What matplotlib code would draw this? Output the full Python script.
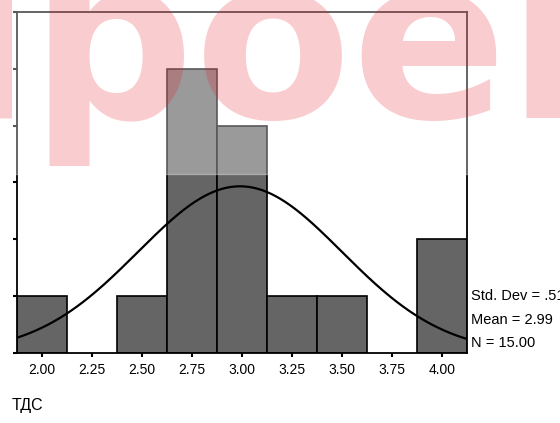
import numpy as np
import matplotlib
matplotlib.use("Agg")
import matplotlib.pyplot as plt
from matplotlib.patches import Rectangle

# histogram of TDS values
bin_centers = [2.00, 2.50, 2.75, 3.00, 3.25, 3.50, 4.00]
counts = [1, 1, 5, 4, 1, 1, 2]
bin_width = 0.25
x_ticks = [2.00, 2.25, 2.50, 2.75, 3.00, 3.25, 3.50, 3.75, 4.00]

std_dev = 0.51
mean = 2.99
n_obs = 15

plt.rcParams['font.family'] = ['Liberation Sans', 'DejaVu Sans']

fig = plt.figure(figsize=(5.6, 4.23), dpi=100)
ax = fig.add_axes([17 / 560, 1 - 353 / 423, 450 / 560, 341 / 423])

ax.bar(bin_centers, counts, width=bin_width, color='#656565',
       edgecolor='black', linewidth=1.2, zorder=2)

# normal curve scaled to counts
xs = np.linspace(1.875, 4.125, 300)
pdf = np.exp(-0.5 * ((xs - mean) / std_dev) ** 2) / (std_dev * np.sqrt(2 * np.pi))
ax.plot(xs, n_obs * bin_width * pdf, color='black', lw=1.6, zorder=3)

ax.set_xlim(1.875, 4.125)
ax.set_ylim(0, 6)
ax.set_xticks(x_ticks)
ax.set_xticklabels([f"{t:.2f}" for t in x_ticks], fontsize=10)
ax.set_yticks(range(7))
ax.set_yticklabels([])
ax.tick_params(direction='out', length=3, width=1.5, pad=4)
for s in ax.spines.values():
    s.set_linewidth(1.3)

fig.text(12 / 560, 1 - 405 / 423, "ТДС", fontsize=11.5, va='center', ha='left')

stats = [f"Std. Dev = {std_dev:.2f}".replace("0.", "."),
         f"Mean = {mean:.2f}",
         f"N = {n_obs:.2f}"]
for i, line in enumerate(stats):
    fig.text(471 / 560, 1 - (296 + 23.5 * i) / 423, line, fontsize=10.5,
             va='center', ha='left')

# watermark band
fig.patches.append(Rectangle((0, 1 - 174 / 423), 1, 174 / 423,
                             transform=fig.transFigure, color='white',
                             alpha=0.35, zorder=10))
fig.text(-0.228, 1 - 118 / 423, "проек", fontsize=165, fontweight='bold',
         family='DejaVu Sans', color=(0.9, 0.1, 0.15), alpha=0.22,
         ha='left', va='baseline', zorder=11)

fig.savefig("out.png", dpi=100)
